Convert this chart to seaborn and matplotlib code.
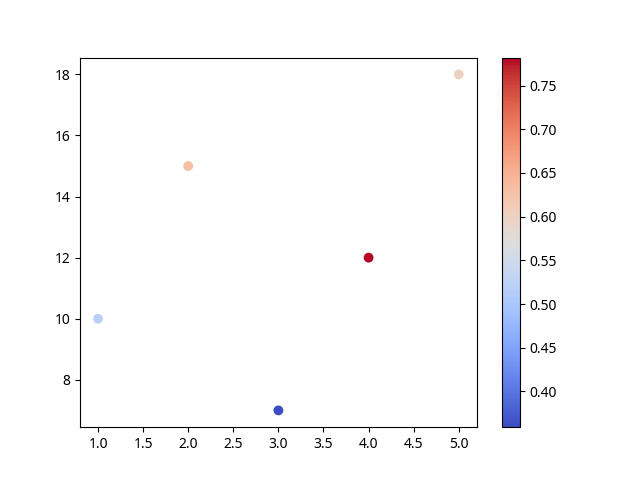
import matplotlib
matplotlib.use("Agg")
import matplotlib.pyplot as plt
import seaborn as sns
import pandas as pd

plt.rcParams['font.family'] = ['Noto Sans', 'DejaVu Sans']

# data
x_vals = [1, 2, 3, 4, 5]
y_vals = [10, 15, 7, 12, 18]
color_vals = [0.52, 0.63, 0.359, 0.782, 0.60]

df = pd.DataFrame({"x": x_vals, "y": y_vals, "c": color_vals})

fig, ax = plt.subplots(figsize=(6.4, 4.8), dpi=100)
norm = plt.Normalize(min(color_vals), max(color_vals))
sns.scatterplot(data=df, x="x", y="y", hue="c", palette="coolwarm",
                hue_norm=norm, s=50, linewidth=0, legend=False, ax=ax)
ax.set_xlabel("")
ax.set_ylabel("")

sm = plt.cm.ScalarMappable(cmap="coolwarm", norm=norm)
sm.set_array([])
fig.colorbar(sm, ax=ax)

plt.savefig("out.png")
plt.close()
